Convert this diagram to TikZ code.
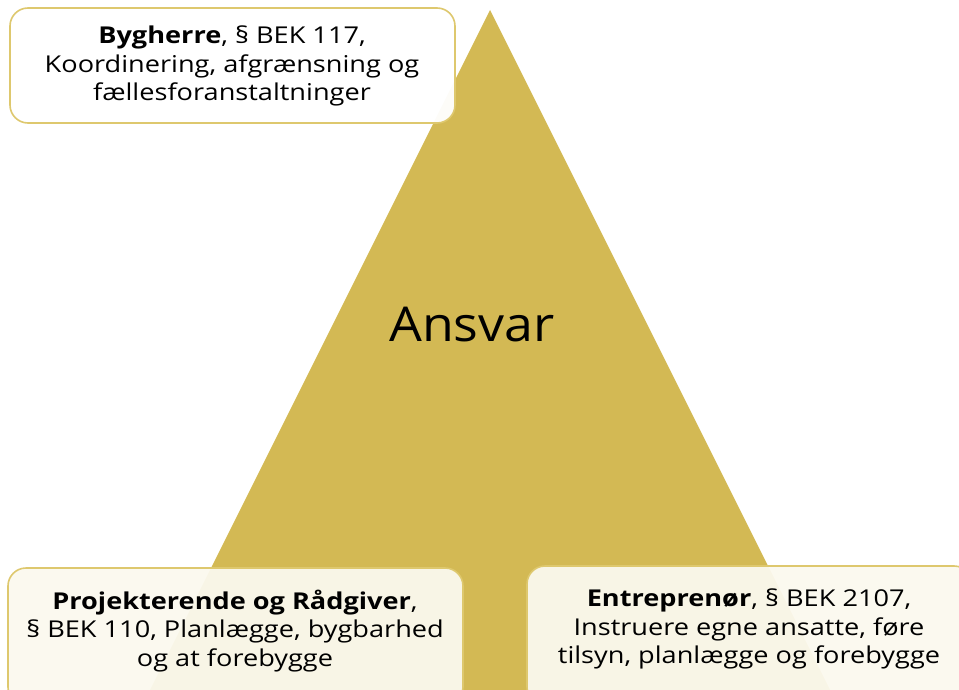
\documentclass[tikz,border=0pt]{standalone}
\usepackage{fontspec}
\setmainfont[FakeStretch=1.17]{Open Sans}
\newfontfamily\titlefont[FakeStretch=1.08]{Open Sans}
\definecolor{gold}{RGB}{211,185,84}
\definecolor{goldline}{RGB}{222,200,110}
\definecolor{cream}{RGB}{251,249,238}
\tikzset{
  infobox/.style={draw=goldline, line width=1.6pt, rounded corners=18pt},
  infotext/.style={align=center, font=\fontsize{23.2}{28.3}\selectfont, text=black, inner sep=0pt},
}
\begin{document}
\begin{tikzpicture}[x=1pt,y=-1pt]
\useasboundingbox (0,0) rectangle (959,690);
\begin{scope}
\clip (0,0) rectangle (959,690);
% triangle
\fill[gold] (490,10) -- (830,690) -- (150,690) -- cycle;
\node[font=\titlefont\fontsize{48}{56}\selectfont, text=black, inner sep=0pt] (ansvar) at (472,325) {Ansvar};
% top box
\draw[infobox, fill=white, fill opacity=0.96] (10,8) rectangle (455,123);
\node[infotext] (bygherre) at (232,66) {\textbf{Bygherre}, § BEK 117,\\Koordinering, afgrænsning og\\fællesforanstaltninger};
% bottom left box
\draw[infobox, fill=cream, fill opacity=0.95] (8,568) rectangle (463,705);
\node[infotext] (projekt) at (235,631) {\textbf{Projekterende og Rådgiver},\\§ BEK 110, Planlægge, bygbarhed\\og at forebygge};
% bottom right box
\draw[infobox, fill=cream, fill opacity=0.95] (527,566) rectangle (972,705);
\node[infotext] (entre) at (749,629) {\textbf{Entreprenør}, § BEK 2107,\\Instruere egne ansatte, føre\\tilsyn, planlægge og forebygge};
\end{scope}
\end{tikzpicture}
\end{document}
